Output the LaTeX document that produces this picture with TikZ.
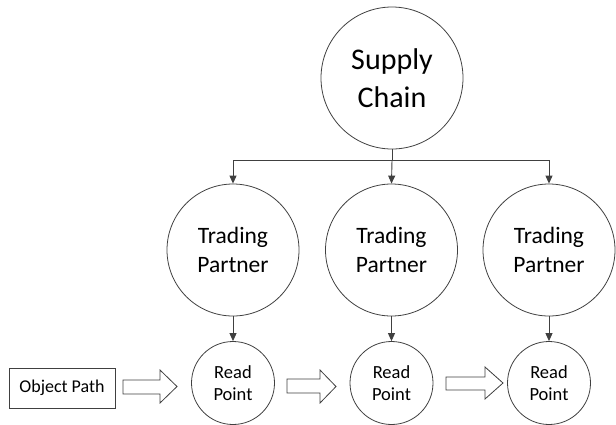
\documentclass[tikz,border=0pt]{standalone}
\usepackage{fontspec}
\setmainfont{Carlito}
\usetikzlibrary{arrows.meta}
\definecolor{ln}{HTML}{404040}
\tikzset{
  every picture/.style={x=1pt,y=-1pt},
  circ/.style={circle,draw=ln,line width=0.8pt,inner sep=0pt,align=center},
  conn/.style={draw=ln,line width=0.9pt,-{Triangle[length=8pt,width=7pt]}},
  blockarrow/.style={draw=ln,line width=0.8pt,fill=white},
}
\begin{document}
\begin{tikzpicture}
\useasboundingbox (0,0) rectangle (616,424);
% hierarchy
\node[circ,minimum size=142pt,font=\fontsize{30}{38}\selectfont] (sc) at (392,78) {Supply\\Chain};
\foreach \i/\x in {1/233,2/391.5,3/549}{
  \node[circ,minimum size=132pt,font=\fontsize{23.5}{28.5}\selectfont] (tp\i) at (\x,250) {Trading\\Partner};
  \node[circ,minimum size=83pt,font=\fontsize{18.5}{22}\selectfont] (rp\i) at (\x,383) {Read\\Point};
  \draw[conn] (tp\i.south) -- (rp\i.north);
}
\coordinate (bus) at (392,160);
\draw[draw=ln,line width=0.9pt] (sc.south) -- (bus);
\draw[conn] (bus) -| (tp1.north);
\draw[conn] (bus) -| (tp3.north);
\draw[conn] (bus) -- (tp2.north);
% object path
\node[draw=ln,line width=0.8pt,minimum width=106pt,minimum height=40pt,inner sep=0pt,font=\fontsize{18}{22}\selectfont] (op) at (62,388) {Object Path};
% block arrows
\draw[blockarrow] (123,380) -- (160,380) -- (160,370) -- (177,386.5) -- (160,403) -- (160,394) -- (123,394) -- cycle;
\draw[blockarrow] (287,379) -- (320,379) -- (320,370) -- (336,386.5) -- (320,403) -- (320,393) -- (287,393) -- cycle;
\draw[blockarrow] (446,377) -- (485,377) -- (485,367) -- (503,383) -- (485,399) -- (485,390) -- (446,390) -- cycle;
\end{tikzpicture}
\end{document}
